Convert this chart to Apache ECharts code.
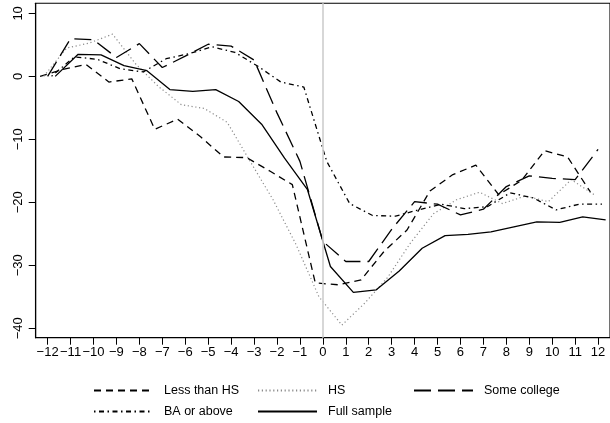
<!DOCTYPE html>
<html>
<head>
<meta charset="utf-8">
<script src="https://cdn.jsdelivr.net/npm/echarts@6/dist/echarts.min.js"></script>
<style>
  html, body { margin: 0; padding: 0; background: #fff; }
  #chart { width: 610px; height: 423px; }
</style>
</head>
<body>
<div id="chart"></div>
<script>
// Months relative to the event (0 = event month)
const periods = [-12, -11, -10, -9, -8, -7, -6, -5, -4, -3, -2, -1, 0, 1, 2, 3, 4, 5, 6, 7, 8, 9, 10, 11, 12];

// Change relative to month -12, by education group
const lessThanHS = [0, 1.1, 1.9, -0.9, -0.4, -8.4, -6.8, -9.6, -12.8, -12.9, -15.0, -17.2, -32.8, -33.1, -32.3, -27.8, -24.4, -18.2, -15.6, -14.1, -18.8, -16.5, -11.8, -12.8, -18.4];
const hs = [0, 4.5, 5.3, 6.7, 2.0, -1.6, -4.5, -5.1, -7.3, -13.5, -19.6, -26.7, -35.0, -39.5, -36.0, -31.9, -26.4, -21.8, -19.6, -18.4, -20.2, -19.0, -19.9, -16.4, -18.8];
const someCollege = [0, 6.0, 5.8, 3.0, 5.2, 1.4, 3.2, 5.1, 4.8, 2.6, -5.8, -13.5, -26.2, -29.4, -29.4, -24.3, -19.9, -20.3, -22.0, -21.1, -17.5, -15.8, -16.2, -16.4, -11.6];
const baOrAbove = [0, 3.1, 2.7, 1.2, 0.7, 2.8, 3.6, 4.7, 3.8, 1.6, -0.9, -1.7, -13.5, -20.2, -22.1, -22.2, -21.2, -20.3, -21.0, -20.7, -18.5, -19.3, -21.2, -20.3, -20.3];
const fullSample = [0, 3.5, 3.4, 1.7, 0.9, -2.1, -2.4, -2.1, -4.0, -7.6, -13.0, -18.0, -30.2, -34.3, -33.9, -30.9, -27.3, -25.3, -25.1, -24.7, -23.9, -23.1, -23.2, -22.3, -22.8];

// Axis tick labels
const xTicks = periods;
const yTicks = [-40, -30, -20, -10, 0, 10];

const FONT = 'Liberation Sans, Arial, Helvetica, sans-serif';

// Each group is nudged sideways a little so the lines do not sit on top of each other
const groups = [
  { name: 'Less than HS', values: lessThanHS, shift: -0.33, color: '#000', width: 1.3, dash: [7, 5] },
  { name: 'HS',           values: hs,         shift: -0.17, color: '#8c8c8c', width: 1.2, dash: [1.2, 2.6] },
  { name: 'Some college', values: someCollege, shift: 0,    color: '#000', width: 1.3, dash: [17, 7] },
  { name: 'BA or above',  values: baOrAbove,  shift: 0.17,  color: '#000', width: 1.3, dash: [1.5, 3.5, 5, 3.5] },
  { name: 'Full sample',  values: fullSample, shift: 0.33,  color: '#000', width: 1.3, dash: 'solid' }
];

const minusFmt = v => (v < 0 ? '\u2212' + Math.abs(v) : String(v));

const series = [{
  // vertical reference line at the event month
  type: 'line',
  data: [],
  z: 1,
  silent: true,
  markLine: {
    silent: true,
    symbol: ['none', 'none'],
    label: { show: false },
    lineStyle: { color: '#d0d0d0', width: 1.7, type: 'solid' },
    data: [{ xAxis: 0 }],
    animation: false
  }
}].concat(groups.map(g => ({
  name: g.name,
  type: 'line',
  z: 3,
  symbol: 'none',
  showSymbol: false,
  data: periods.map((p, i) => [p + g.shift, g.values[i]]),
  lineStyle: { color: g.color, width: g.width, type: g.dash },
  itemStyle: { color: g.color }
})));

// legend slots: three columns, two rows
const legendCols = [93, 257, 413];
const legendRows = [384, 405];
const legendSlots = [[0, 0], [0, 1], [0, 2], [1, 0], [1, 1]];
const legends = groups.map((g, i) => ({
  data: [g.name],
  left: legendCols[legendSlots[i][1]],
  top: legendRows[legendSlots[i][0]],
  itemWidth: 59,
  itemHeight: 14,
  padding: 0,
  selectedMode: false,
  itemStyle: { opacity: 0 },
  textStyle: { fontFamily: FONT, fontSize: 12.5, color: '#000', padding: [0, 0, 0, 6] }
}));

const chart = echarts.init(document.getElementById('chart'), null, { renderer: 'canvas' });
chart.setOption({
  animation: false,
  backgroundColor: '#fff',
  grid: {
    left: 35.7, right: -2.9, top: 3.3, bottom: 85.3,
    show: true, borderColor: '#000', borderWidth: 1.1, backgroundColor: 'transparent'
  },
  legend: legends,
  xAxis: {
    type: 'value',
    min: -12.52,
    max: 12.52,
    splitLine: { show: false },
    axisLine: { show: true, onZero: false, lineStyle: { color: '#000', width: 1.1 } },
    axisTick: { show: true, customValues: xTicks, length: 7, lineStyle: { color: '#000', width: 1 } },
    axisLabel: { customValues: xTicks, formatter: minusFmt, fontFamily: FONT, fontSize: 13, color: '#000', margin: 8 }
  },
  yAxis: {
    type: 'value',
    min: -41.5,
    max: 11.6,
    splitLine: { show: false },
    axisLine: { show: true, onZero: false, lineStyle: { color: '#000', width: 1.1 } },
    axisTick: { show: true, customValues: yTicks, length: 7, lineStyle: { color: '#000', width: 1 } },
    axisLabel: { customValues: yTicks, formatter: minusFmt, rotate: 90, fontFamily: FONT, fontSize: 13, color: '#000', margin: 11 }
  },
  series: series
});
</script>
</body>
</html>
